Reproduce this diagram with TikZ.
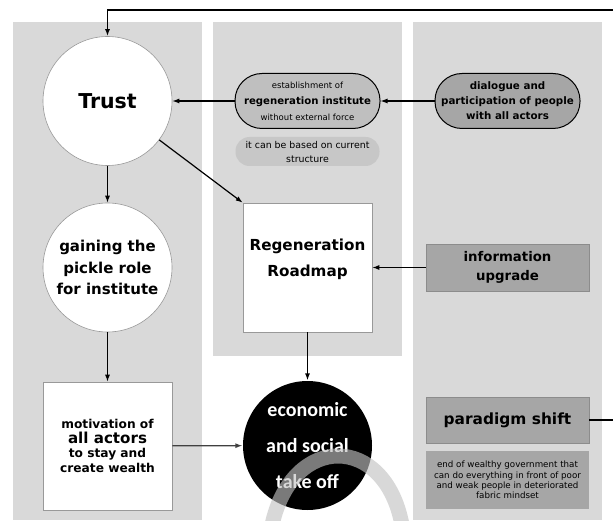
\documentclass[tikz,border=0pt]{standalone}
\usepackage{fontspec}
\setmainfont{DejaVu Sans}
\newfontfamily\econfont{Carlito}
\usetikzlibrary{arrows.meta}

\tikzset{
  panel/.style={fill=black!15, draw=none},
  whitenode/.style={draw=black!40, line width=0.6pt, fill=white, inner sep=0pt, align=center},
  pill/.style={draw=black, line width=1pt, rounded corners=27pt, minimum width=145pt, minimum height=55pt, inner sep=0pt, align=center},
  greybox/.style={fill=black!35, draw=black!45, line width=0.6pt, minimum width=163pt, inner sep=0pt, align=center},
}

\begin{document}
\begin{tikzpicture}[x=1pt, y=-1pt, >={Latex[length=7pt,width=5pt]}, line width=1.2pt]
	\useasboundingbox (0,0) rectangle (613,521);
	\clip (0,0) rectangle (613,521);

	% columns
	\fill[panel] (13,22) rectangle (202,520);
	\fill[panel] (213,22) rectangle (402,356);
	\fill[panel] (413,22) rectangle (602,520);

	\node[whitenode, circle, minimum size=129pt, font=\bfseries\fontsize{20.5}{24}\selectfont] (Trust) at (107.5,101) {Trust};
	\node[whitenode, circle, minimum size=129pt, font=\bfseries\fontsize{15}{21.3}\selectfont] (gain) at (107.5,267.5) {gaining the\\pickle role\\for institute};
	\node[whitenode, minimum width=129pt, minimum height=128pt, font=\bfseries\fontsize{12.2}{14.5}\selectfont] (motiv) at (107.5,446) {motivation of\\{\fontsize{15.1}{15}\selectfont all actors}\\to stay and\\create wealth};

	\node[pill, fill=black!25, font=\fontsize{8.5}{16}\selectfont] (estab) at (307.5,101) {establishment of\\{\bfseries\fontsize{10.15}{16}\selectfont regeneration institute}\\without external force};
	\node[fill=black!22, rounded corners=14pt, minimum width=144pt, minimum height=29pt, inner sep=0pt, align=center, font=\fontsize{9.4}{14}\selectfont] (based) at (307.5,151.5) {it can be based on current\\structure};
	\node[whitenode, minimum size=129pt, text depth=20pt, font=\bfseries\fontsize{15.2}{26}\selectfont] (road) at (307.5,267.5) {Regeneration\\Roadmap};
	\node[fill=black, circle, minimum size=129pt, inner sep=0pt, text=white, align=center, font=\econfont\bfseries\fontsize{20}{36}\selectfont] (econ) at (307.5,445.5) {economic\\and social\\take off};

	\node[pill, fill=black!35, font=\bfseries\fontsize{10.3}{15}\selectfont] (dial) at (507.5,101) {dialogue and\\participation of people\\with all actors};
	\node[greybox, minimum height=47pt, font=\bfseries\fontsize{13.3}{19}\selectfont] (info) at (507.5,267.5) {information\\upgrade};
	\node[greybox, minimum height=46pt, font=\bfseries\fontsize{15.4}{18}\selectfont] (para) at (507.5,420) {paradigm shift};
	\node[greybox, draw=none, minimum height=58pt, font=\fontsize{8.7}{10.4}\selectfont] (endw) at (507.5,480) {end of wealthy government that\\can do everything in front of poor\\and weak people in deteriorated\\fabric mindset};

	\draw[->] (dial) -- (estab);
	\draw[->] (estab) -- (Trust);
	\draw[->] (Trust) -- (road.north west);
	\draw[->] (Trust) -- (gain);
	\draw[->] (gain) -- (motiv);
	\draw[->, black!75] (motiv) -- (econ);
	\draw[->] (road) -- (econ);
	\draw[->] (info) -- (road);

	\coordinate (loop) at (625,10);
	\draw[->, line width=1.5pt] (para.east) -| (loop) -| (Trust.north);

	% faint arc over the take off circle
	\draw[line width=15pt, black!24, opacity=0.63] (272,525) .. controls (292,433) and (385,433) .. (402,525);

\end{tikzpicture}
\end{document}
